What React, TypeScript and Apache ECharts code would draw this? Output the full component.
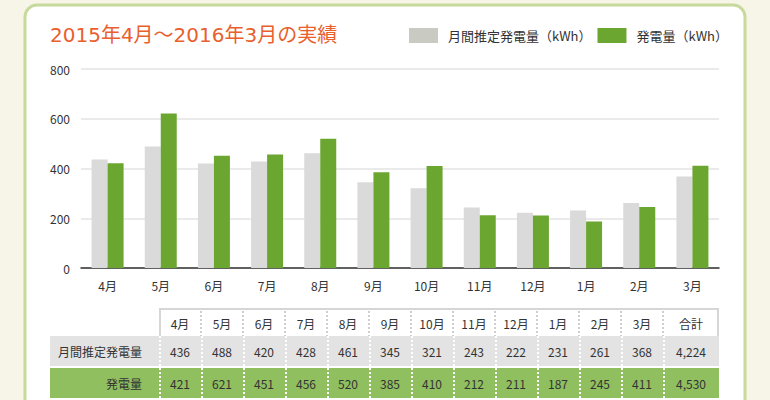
import React, { useEffect, useRef } from 'react';
import * as echarts from 'echarts';

const months = ['4月', '5月', '6月', '7月', '8月', '9月', '10月', '11月', '12月', '1月', '2月', '3月'];
const estimated = [436, 488, 420, 428, 461, 345, 321, 243, 222, 231, 261, 368];
const actual = [421, 621, 451, 456, 520, 385, 410, 212, 211, 187, 245, 411];
const totalLabel = '合計';
const rowLabels = ['月間推定発電量', '発電量'];
const seriesNames = ['月間推定発電量（kWh）', '発電量（kWh）'];
const titleText = '2015年4月～2016年3月の実績';

const FONT = '"Noto Sans CJK JP", "Noto Sans", sans-serif';
const TITLE_FONT = '"DejaVu Sans", "Noto Sans CJK JP", sans-serif';
const fmt = (n: number) => n.toLocaleString('en-US');
const sum = (a: number[]) => a.reduce((s, v) => s + v, 0);

function buildTable(): any[] {
  const els: any[] = [];
  const x0 = 159;
  const colW = 42;
  const totalW = 56;
  const right = x0 + colW * months.length + totalW;
  const headTop = 308;
  const headBottom = 336;
  const rows = [
    { top: 336, h: 30, fill: '#e3e3e3', values: estimated, label: rowLabels[0] },
    { top: 368, h: 30, fill: '#90bf60', values: actual, label: rowLabels[1] },
  ];
  els.push({ type: 'rect', shape: { x: x0, y: headTop, width: right - x0, height: headBottom - headTop }, style: { fill: '#ffffff' } });
  els.push({ type: 'line', shape: { x1: x0, y1: headTop + 1, x2: right, y2: headTop + 1 }, style: { stroke: '#d6d6d6', lineWidth: 2 } });
  els.push({ type: 'line', shape: { x1: x0 + 1, y1: headTop, x2: x0 + 1, y2: headBottom }, style: { stroke: '#d6d6d6', lineWidth: 2 } });
  els.push({ type: 'line', shape: { x1: right - 1, y1: headTop, x2: right - 1, y2: headBottom }, style: { stroke: '#d6d6d6', lineWidth: 2 } });
  const headers = [...months, totalLabel];
  headers.forEach((h, i) => {
    const cx = i < months.length ? x0 + colW * i + colW / 2 : x0 + colW * months.length + totalW / 2;
    els.push({ type: 'text', x: cx, y: 323, style: { text: h, fill: '#333', font: `12px ${FONT}`, align: 'center', verticalAlign: 'middle' } });
    if (i > 0) {
      const lx = x0 + colW * i;
      els.push({ type: 'line', shape: { x1: lx, y1: headTop + 3, x2: lx, y2: headBottom }, style: { stroke: '#cfcfcf', lineWidth: 2, lineDash: [2, 2] } });
    }
  });
  rows.forEach((r) => {
    els.push({ type: 'rect', shape: { x: 50, y: r.top, width: right - 50, height: r.h }, style: { fill: r.fill } });
    els.push({ type: 'text', x: 142, y: r.top + r.h / 2, style: { text: r.label, fill: '#333', font: `12px ${FONT}`, align: 'right', verticalAlign: 'middle' } });
    const vals = [...r.values.map(fmt), fmt(sum(r.values))];
    vals.forEach((v, i) => {
      const cx = i < months.length ? x0 + colW * i + colW / 2 : x0 + colW * months.length + totalW / 2;
      els.push({ type: 'text', x: cx, y: r.top + r.h / 2, style: { text: v, fill: '#333', font: `12px ${FONT}`, align: 'center', verticalAlign: 'middle' } });
    });
    for (let i = 0; i <= months.length; i++) {
      const lx = x0 + colW * i + 1;
      els.push({ type: 'line', shape: { x1: lx, y1: r.top, x2: lx, y2: r.top + r.h }, style: { stroke: '#ffffff', lineWidth: 2, lineDash: [2, 2] } });
    }
  });
  return els;
}

export default function App() {
  const ref = useRef<HTMLDivElement>(null);
  useEffect(() => {
    if (!ref.current) return;
    const chart = echarts.init(ref.current, undefined, { renderer: 'svg' });
    chart.setOption({
      animation: false,
      backgroundColor: '#f7f5e8',
      textStyle: { fontFamily: FONT },
      grid: { left: 81, right: 51, top: 69, bottom: 132, containLabel: false },
      legend: {
        left: 409,
        top: 28,
        itemWidth: 29,
        itemHeight: 15,
        itemGap: 6,
        padding: 0,
        icon: 'rect',
        textStyle: { fontSize: 13, color: '#333', fontFamily: FONT, padding: [0, 0, 0, 5] },
        data: [
          { name: seriesNames[0], itemStyle: { color: '#c9cbc3' } },
          { name: seriesNames[1], itemStyle: { color: '#6ba631' } },
        ],
      },
      xAxis: {
        type: 'category',
        data: months,
        axisTick: { show: false },
        axisLine: { lineStyle: { color: '#333', width: 1.5 } },
        axisLabel: { color: '#333', fontSize: 12, margin: 11, fontFamily: FONT },
      },
      yAxis: {
        type: 'value',
        min: 0,
        max: 800,
        interval: 200,
        axisLine: { show: false },
        axisTick: { show: false },
        axisLabel: { color: '#333', fontSize: 12, margin: 11, fontFamily: FONT },
        splitLine: { lineStyle: { color: '#e3e3e3', width: 1.5 } },
      },
      series: [
        { name: seriesNames[0], type: 'bar', data: estimated, barWidth: 16, barGap: '0%', itemStyle: { color: '#dadada' } },
        { name: seriesNames[1], type: 'bar', data: actual, barWidth: 16, barGap: '0%', itemStyle: { color: '#6ba631' } },
      ],
      graphic: {
        elements: [
          {
            type: 'rect',
            z: -10,
            shape: { x: 25, y: 5, width: 720, height: 430, r: 12 },
            style: { fill: '#ffffff', stroke: '#c6da9c', lineWidth: 3 },
          },
          {
            type: 'text',
            x: 50,
            y: 35,
            style: { text: titleText, fill: '#e9602d', font: `20px ${TITLE_FONT}`, verticalAlign: 'middle' },
          },
          ...buildTable(),
        ],
      },
    });
    return () => chart.dispose();
  }, []);
  return <div ref={ref} style={{ position: 'fixed', left: 0, top: 0, width: 770, height: 400 }} />;
}
